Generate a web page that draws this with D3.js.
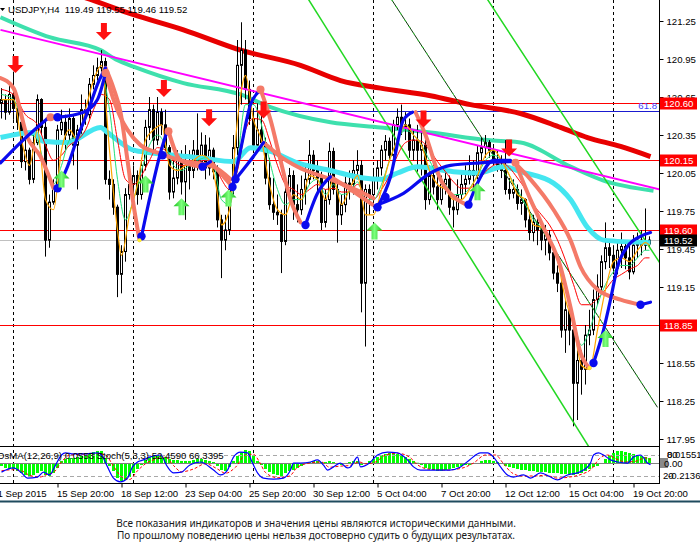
<!DOCTYPE html>
<html>
<head>
<meta charset="utf-8">
<script src="https://cdn.jsdelivr.net/npm/d3@7"></script>
<style>
  body { margin: 0; background: #fff; }
  svg { display: block; font-family: "Liberation Sans", Arial, sans-serif; }
</style>
</head>
<body>
<svg id="svg"></svg>
<script>
// ---- price data, H4 bars; bar 0 = Mon 14 Sep 00:00, visible bars -3..159 ----
const firstBar = -3;
const firstOpen = 120.60;
const closes = [120.63,120.53,120.67,120.56,120.45,120.14,120.23,120.00,120.29,120.63,120.41,119.52,119.82,119.93,120.39,120.45,120.35,120.48,120.27,120.39,
  120.55,120.51,120.75,120.82,120.88,120.93,120.00,119.96,119.78,119.25,119.43,119.88,119.96,120.03,119.88,120.11,120.41,120.55,120.31,120.53,
  120.43,120.25,119.90,120.01,120.15,119.98,120.11,120.07,120.23,120.14,120.27,120.09,120.23,120.06,119.68,119.52,119.60,119.92,120.25,120.90,
  121.02,120.71,120.48,120.27,120.39,120.29,120.01,119.80,119.74,119.72,119.51,119.90,120.03,119.80,119.76,119.92,120.00,120.19,120.07,120.01,
  119.66,119.84,120.22,119.92,119.72,119.80,119.97,119.96,120.07,120.11,119.18,119.92,119.88,120.01,120.09,120.23,120.30,120.19,120.43,120.49,
  120.41,120.43,120.23,120.31,120.23,120.27,119.84,120.03,119.94,119.84,119.96,120.00,119.78,119.76,119.88,119.96,120.00,120.07,120.03,120.21,
  120.25,120.29,120.23,120.15,120.11,120.07,119.92,119.89,119.92,119.81,119.84,119.68,119.58,119.66,119.60,119.52,119.56,119.42,119.26,119.18,
  118.81,118.97,118.81,118.39,118.57,118.50,118.77,118.81,119.05,119.15,119.35,119.46,119.40,119.30,119.44,119.47,119.38,119.27,119.48,119.52,
  119.48,119.49,119.52];
const highs = [120.72,120.67,120.75,120.85,120.63,120.48,120.31,120.25,120.35,120.67,120.64,120.47,119.88,120.00,120.43,120.55,120.51,120.56,120.51,120.43,
  120.67,120.63,120.80,120.90,120.96,121.02,120.96,120.07,120.00,119.80,119.48,119.93,120.11,120.11,120.07,120.17,120.47,120.65,120.59,120.65,
  120.56,120.55,120.27,120.15,120.23,120.23,120.27,120.23,120.31,120.52,120.37,120.35,120.33,120.25,120.11,119.72,119.72,119.98,120.35,121.10,
  121.24,121.10,120.78,120.55,120.60,120.60,120.33,120.17,120.01,119.88,119.76,119.96,120.09,120.07,119.96,120.03,120.11,120.31,120.23,120.15,
  120.06,119.92,120.29,120.25,120.00,119.88,120.03,120.07,120.15,120.23,120.15,119.96,119.96,120.09,120.15,120.27,120.35,120.33,120.47,120.56,
  120.59,120.53,120.48,120.39,120.43,120.37,120.31,120.11,120.15,120.07,120.03,120.07,120.03,119.88,120.00,120.07,120.11,120.19,120.15,120.27,
  120.33,120.35,120.31,120.27,120.23,120.19,120.31,120.01,120.00,119.96,119.92,119.85,119.76,119.72,119.70,119.68,119.64,119.60,119.48,119.32,
  119.21,119.05,119.01,118.85,118.65,118.65,118.85,118.97,119.13,119.25,119.40,119.66,119.52,119.48,119.52,119.58,119.52,119.48,119.56,119.58,
  119.60,119.77,119.55];
const lows = [120.48,120.47,120.51,120.47,120.39,120.09,120.07,119.96,119.97,120.27,120.35,119.39,119.46,119.80,119.92,120.35,120.23,120.31,120.11,119.92,
  120.35,120.43,120.48,120.71,120.78,120.85,119.96,119.84,119.72,119.07,119.10,119.35,119.84,119.88,119.80,119.84,120.07,120.31,120.23,120.27,
  120.35,120.22,119.84,119.85,119.96,119.88,119.68,119.92,120.01,120.07,120.07,120.00,120.03,120.00,119.62,119.22,119.44,119.56,119.88,120.19,
  120.59,120.63,120.43,120.23,120.23,120.23,119.96,119.76,119.68,119.64,119.26,119.48,119.82,119.68,119.66,119.72,119.80,119.96,120.00,119.88,
  119.60,119.62,119.80,119.88,119.50,119.64,119.74,119.84,119.88,120.00,118.95,118.68,119.72,119.80,119.92,120.03,120.15,120.15,120.17,120.39,
  120.35,120.31,120.17,120.15,120.06,120.03,119.76,119.80,119.88,119.76,119.80,119.88,119.72,119.62,119.72,119.84,119.88,119.96,119.92,120.00,
  120.15,120.17,120.17,120.11,120.06,120.01,119.88,119.84,119.85,119.76,119.72,119.62,119.52,119.51,119.48,119.44,119.40,119.36,119.21,119.11,
  118.75,118.63,118.69,118.05,118.10,118.30,118.38,118.69,118.77,119.01,119.11,119.29,119.30,119.25,119.25,119.30,119.29,119.21,119.25,119.38,
  119.40,119.44,119.46];

// ---- OsMA histogram, one value per bar ----
const osma = [-0.0058,-0.0097,-0.0116,-0.0116,-0.0155,-0.0194,-0.0233,-0.0252,-0.0233,-0.0194,-0.0155,-0.0233,-0.0252,-0.0194,-0.0097,0.0039,0.0078,0.0097,0.0097,0.0116,
  0.0136,0.0155,0.0194,0.0213,0.0233,0.0233,0.0097,-0.0058,-0.0155,-0.0291,-0.0349,-0.0330,-0.0271,-0.0194,-0.0116,-0.0039,0.0058,0.0116,0.0136,0.0155,
  0.0136,0.0116,0.0078,0.0058,0.0058,0.0039,0.0039,0.0039,0.0058,0.0078,0.0078,0.0058,0.0039,0.0019,-0.0058,-0.0136,-0.0155,-0.0078,0.0039,0.0136,
  0.0213,0.0252,0.0233,0.0136,0.0039,-0.0039,-0.0116,-0.0174,-0.0213,-0.0233,-0.0252,-0.0194,-0.0155,-0.0136,-0.0097,-0.0058,-0.0019,0.0019,0.0039,0.0039,
  0.0019,0.0019,0.0039,0.0019,-0.0019,-0.0039,-0.0019,0.0019,0.0039,0.0039,-0.0039,-0.0019,0.0039,0.0078,0.0116,0.0155,0.0174,0.0194,0.0194,0.0174,
  0.0155,0.0116,0.0078,0.0039,0.0005,-0.0039,-0.0097,-0.0116,-0.0136,-0.0155,-0.0155,-0.0136,-0.0116,-0.0097,-0.0078,-0.0058,-0.0039,-0.0039,-0.0019,-0.0005,
  0.0039,0.0058,0.0058,0.0039,0.0019,-0.0019,-0.0058,-0.0078,-0.0097,-0.0116,-0.0136,-0.0136,-0.0155,-0.0155,-0.0174,-0.0174,-0.0174,-0.0194,-0.0194,-0.0194,
  -0.0213,-0.0213,-0.0213,-0.0233,-0.0213,-0.0194,-0.0155,-0.0116,-0.0078,-0.0058,-0.0019,0.0078,0.0155,0.0194,0.0233,0.0233,0.0213,0.0194,0.0174,0.0155,
  0.0136,0.0116,0.0097];

// ---- Stochastic (bar, value) ----
const stochMain = [[-3,31],[0,43],[2,29],[3.5,14],[6,17],[7.5,31],[9,23],[10.5,51],[12,80],[13,86],[15,83],[17.5,83],[21,86],[22,80],[23.5,46],[25,14],
  [26.75,3],[28.5,14],[29.75,46],[31,60],[32.5,66],[34,74],[36.75,80],[38.5,46],[40,29],[42,31],[44,51],[46.75,60],[50,37],[51.75,23],[53.5,37],[55,74],
  [56.75,88],[58.5,86],[59.75,57],[61,29],[62.5,14],[65,11],[67.5,14],[69.25,37],[70,57],[71.75,57],[74.25,60],[76,66],[77.5,51],[78.5,37],[80,46],[81.75,57],
  [83.5,43],[84.25,46],[86,74],[86.75,46],[89,57],[91,80],[93.5,88],[96,86],[98.5,66],[100,46],[101.75,37],[105,37],[109,37],[111.75,46],[114,66],[116.75,86],
  [118.5,86],[120,74],[121.75,46],[123.5,23],[125,17],[127.5,23],[129.25,14],[131.75,29],[134.25,17],[136,9],[138.5,23],[141,29],[142.5,37],[144.25,57],
  [145,80],[146.25,86],[147.5,80],[149.25,66],[151,60],[153.5,57],[155,74],[156.75,80],[158.5,57],[159.25,52]];
const stochSignal = [[-3,35],[0,38],[2,35],[4,22],[6.5,17],[8.5,25],[10,30],[12,60],[14,80],[17,82],[21,84],[23,80],[25,48],[27,18],[29,10],[31,35],
  [33,55],[35.5,68],[38,74],[40,50],[42,32],[45,40],[48,55],[51,40],[53,28],[55.5,45],[58,80],[60,82],[61.5,60],[63,30],[66,15],[69,20],[71,45],[74,57],
  [77,60],[79,45],[81.5,48],[84,50],[86.5,60],[88,55],[90.5,60],[93,80],[96,85],[99,74],[101,52],[103.5,40],[108,37],[112,42],[115,57],[118,80],[120.5,80],
  [122.5,55],[124.5,30],[127,20],[130,20],[133,22],[136,14],[139,17],[142,25],[144.5,40],[146.5,70],[148.5,80],[150.5,70],[153,60],[155.5,62],[158,72],[159.25,66]];

// ---- moving averages (bar, price) ----
const maRed = [[-3.25,121.65],[11.75,121.50],[19.25,121.42],[30,121.30],[42.5,121.18],[56.75,121.02],[71.75,120.90],[81.75,120.78],[91.75,120.72],
  [104.25,120.66],[114.25,120.59],[126.75,120.52],[136.75,120.41],[143.5,120.33],[151.75,120.26],[159.25,120.18]];
const maTeal = [[-3.25,121.28],[9.25,121.12],[21.75,121.02],[26,120.94],[30,120.89],[42.5,120.76],[56.75,120.67],[64.25,120.57],[79.25,120.45],
  [91.75,120.41],[104.25,120.37],[118.5,120.31],[126.75,120.29],[139.25,120.10],[147.5,119.99],[160,119.91]];
const maCyan = [[-3.25,120.33],[5,120.37],[7.5,120.30],[13.5,120.29],[21.75,120.41],[23.5,120.37],[30,120.23],[34.25,120.21],[46.75,120.17],[55,120.14],
  [59.25,120.25],[64.25,120.22],[71,120.13],[79.25,120.07],[87.5,120.01],[91.75,120.00],[96,120.05],[101,120.10],[110,120.06],[116,120.05],[122.5,120.10],
  [126.75,120.06],[135,119.97],[139.25,119.84],[143.5,119.62],[147.5,119.52],[159.25,119.50]];
const thinOrange = [[-3,120.63],[0,120.63],[2,120.31],[4,120.11],[6,120.39],[8,119.84],[10,119.76],[12,120.23],[14,120.39],[16,120.31],[18,120.55],[20,120.78],
  [22,120.90],[24,120.23],[26,119.60],[27,119.40],[29,119.72],[31,119.96],[33,120.31],[35,120.39],[37,120.43],[39,120.11],[41,120.07],[43,120.11],[45,120.15],
  [47,120.19],[49,120.15],[51,119.88],[52,119.64],[54,119.76],[56,120.47],[58,120.82],[60,120.47],[62,120.31],[64,119.96],[66,119.76],[68,119.72],[70,119.88],
  [72,119.84],[74,120.03],[76,120.00],[78,119.84],[80,120.00],[82,119.80],[84,119.92],[86,120.03],[88,119.72],[90,119.72],[92,119.92],[94,120.15],[96,120.31],
  [98,120.43],[100,120.35],[102,120.27],[104,120.07],[106,119.96],[108,119.92],[110,119.84],[112,119.84],[114,119.92],[116,120.03],[118,120.19],[120,120.23],
  [122,120.15],[124,120.03],[126,119.88],[128,119.84],[130,119.64],[132,119.62],[134,119.54],[136,119.36],[138,119.05],[140,118.85],[142,118.53],[144,118.50],
  [146,118.81],[148,119.13],[150,119.35],[152,119.38],[154,119.35],[156,119.44],[158,119.50],[159,119.48]];
const thinGreen = [[-3,120.67],[0,120.63],[3,120.39],[6,120.31],[8,120.07],[10,119.96],[12,120.11],[14,120.31],[16,120.35],[18,120.47],[20,120.67],[22,120.82],
  [24,120.55],[26,120.00],[28,119.68],[30,119.84],[32,120.07],[34,120.27],[36,120.35],[38,120.27],[40,120.11],[42,120.07],[44,120.11],[46,120.15],[48,120.17],
  [50,120.11],[52,119.84],[54,119.80],[56,120.15],[58,120.59],[60,120.59],[62,120.43],[64,120.15],[66,119.92],[68,119.80],[70,119.84],[72,119.84],[74,119.96],
  [76,120.00],[78,119.88],[80,119.96],[82,119.88],[84,119.90],[86,119.98],[88,119.84],[90,119.84],[92,119.96],[94,120.15],[96,120.31],[98,120.39],[100,120.35],
  [102,120.27],[104,120.15],[106,120.03],[108,119.96],[110,119.88],[112,119.88],[114,119.93],[116,120.03],[118,120.15],[120,120.19],[122,120.15],[124,120.03],
  [126,119.92],[128,119.80],[130,119.68],[132,119.62],[134,119.52],[136,119.36],[138,119.13],[140,118.89],[142,118.69],[144,118.81],[146,119.01],[148,119.17],
  [150,119.27],[152,119.32],[154,119.32],[156,119.38],[158,119.44],[159,119.44]];
const thinRed = [[-3,120.71],[0,120.67],[3,120.51],[6,120.43],[8,120.27],[10,120.15],[12,120.19],[14,120.27],[16,120.31],[18,120.39],[20,120.55],[22,120.67],
  [24,120.63],[26,120.31],[28,120.00],[30,119.96],[32,120.03],[34,120.15],[36,120.25],[38,120.23],[40,120.15],[42,120.11],[44,120.11],[46,120.14],[48,120.15],
  [50,120.13],[52,120.00],[54,119.92],[56,120.07],[58,120.39],[60,120.48],[62,120.47],[64,120.31],[66,120.11],[68,119.96],[70,119.92],[72,119.88],[74,119.92],
  [76,119.96],[78,119.92],[80,119.93],[82,119.90],[84,119.90],[86,119.96],[88,119.88],[90,119.84],[92,119.92],[94,120.03],[96,120.19],[98,120.29],[100,120.31],
  [102,120.30],[104,120.23],[106,120.14],[108,120.06],[110,119.98],[112,119.93],[114,119.93],[116,119.98],[118,120.06],[120,120.11],[122,120.13],[124,120.09],
  [126,120.01],[128,119.92],[130,119.80],[132,119.72],[134,119.64],[136,119.52],[138,119.36],[140,119.17],[142,119.01],[144,119.01],[146,119.06],[148,119.13],
  [150,119.21],[152,119.25],[154,119.29],[156,119.32],[158,119.38],[159,119.38]];

// ---- swing lines: falling legs (salmon) and rising legs (blue) ----
const fastFalling = [
  [[-3.25,120.80],[0,120.72],[3.5,120.33],[6.75,120.18],[10,119.93]],
  [[23,120.88],[25,120.72],[26.75,120.53],[28.5,120.15],[30,119.80],[31.5,119.52]],
  [[38.75,120.38],[41.75,120.15],[46.75,120.10]],
  [[49.25,120.14],[52.25,120.03],[54.75,119.94]],
  [[61.75,120.71],[64.25,120.47],[66.75,120.15],[69.25,119.84],[71.75,119.66]],
  [[79.25,120.02],[84.25,119.92],[89.75,119.80]],
  [[100.5,120.53],[103,120.35],[106.75,120.00],[110.5,119.85],[113.25,119.80]],
  [[125.5,120.13],[129.25,119.84],[132.5,119.62],[136.75,119.31],[139.25,118.99],[141.75,118.63],[144,118.51]]];
const fastRising = [
  [[11,119.93],[13.5,120.10],[16,120.33],[18.75,120.55],[21,120.75],[23,120.88]],
  [[32,119.55],[34.25,119.88],[36.75,120.21],[38.5,120.39]],
  [[47.25,120.10],[49.25,120.14]],
  [[54.75,119.94],[56.75,120.23],[59.25,120.59],[61.25,120.69]],
  [[73,119.64],[76,119.89],[79.25,120.02]],
  [[91,119.78],[94.25,120.02],[97.5,120.47],[99.75,120.53]],
  [[113.75,119.80],[116,119.97],[120,120.15],[124.25,120.15]],
  [[145,118.55],[147.5,118.81],[149.25,119.05],[151,119.31],[153.5,119.47],[156.75,119.55],[159.25,119.58]]];
const slowFalling = [
  [[8.5,120.48],[11,120.49]],
  [[23,120.84],[25,120.63],[26.75,120.49],[28.5,120.39],[31.75,120.27],[36,120.21],[41.75,120.15],[50,120.10],[54.25,120.00]],
  [[62.5,120.29],[66.75,120.18],[71,120.10],[79.25,120.00],[87.5,119.89],[90,119.85]],
  [[125,120.14],[129.25,120.00],[135,119.76],[139.25,119.52],[141.75,119.31],[146,119.13],[151.75,119.05],[156.75,119.01]]];
const slowRising = [
  [[-3.25,120.13],[1.75,120.29],[8.5,120.48]],
  [[11,120.49],[17.5,120.53],[21,120.63],[23,120.84]],
  [[55.5,120.00],[59.25,120.15],[62.5,120.29]],
  [[91,119.80],[97.5,119.89],[104.25,120.05],[109.25,120.11],[116.75,120.13],[125,120.14]],
  [[156.75,119.01],[159.25,119.03]]];
const blueDots = [[11,120.49],[11,119.93],[32,119.55],[37.25,120.19],[47.25,120.10],[54.75,119.94],[55.5,120.00],[73,119.64],[91,119.78],[93,119.86],[113.75,119.80],[145,118.55],[156.75,119.01]];
const salmonDots = [[9.25,120.49],[23,120.84],[38.75,120.38],[61.75,120.71],[125.5,120.13]];
const yellowDots = [[31.5,119.52],[144,118.51]];

// ---- signal arrows: sell arrows (tip below), buy arrows (tip above) ----
const sellArrows = [[0.5,120.84],[22.6,121.10],[37.6,120.65],[48.9,120.42],[62.5,120.48],[102.5,120.41],[123.9,120.18]];
const buyArrows = [[12,120.07],[33,120.03],[42,119.85],[53.75,119.92],[90.25,119.66],[116,119.97],[148,118.81]];

// ---- drawn objects ----
const trendMagenta = [[-3.25,121.18],[161.5,119.92]];
const channelA = [[73.75,121.42],[145,117.83]];
const channelB = [[118.5,121.42],[162,119.32]];
const channelC = [[94.5,121.42],[161,118.20]];
const redLevels = [120.60, 120.15, 119.60, 118.85];
const fibLevel = 120.54;
const bidPrice = 119.52;

// ---- axes ----
const priceTicks = [121.25,120.95,120.65,120.35,120.05,119.75,119.45,119.15,118.85,118.55,118.25,117.95];
const timeTickBars = [-5,11,27,43,59,75,91,107,123,139,155];
const timeTickLabels = ["11 Sep 2015","15 Sep 20:00","18 Sep 12:00","23 Sep 04:00","25 Sep 20:00","30 Sep 12:00",
  "5 Oct 04:00","7 Oct 20:00","12 Oct 12:00","15 Oct 04:00","19 Oct 20:00"];
const weekStartBars = [0,30,60,90,120,150];

const width = 700, height = 552;
const plotRight = 659, mainBottom = 446, indTop = 447, indBottom = 483;

let svg = d3.select("#svg").attr("width", width).attr("height", height);
svg.append("rect").attr("width", width).attr("height", height).attr("fill", "#fff");

const x = d3.scaleLinear().domain([0, 1]).range([13.5, 17.5]);
const y = d3.scaleLinear().domain([117.95, 121.25]).range([439, 21]);
const yOsma = d3.scaleLinear().domain([-0.0388, 0.031]).range([483, 447]);
const yStoch = d3.scaleLinear().domain([0, 100]).range([483, 448]);

const defs = svg.append("defs");
defs.append("clipPath").attr("id", "clipMain").append("rect").attr("x", 0).attr("y", 0).attr("width", plotRight).attr("height", mainBottom);
defs.append("clipPath").attr("id", "clipInd").append("rect").attr("x", 0).attr("y", indTop).attr("width", plotRight).attr("height", indBottom - indTop);
let grad = defs.append("linearGradient").attr("id", "buyGrad").attr("x1", 0).attr("x2", 1).attr("y1", 0).attr("y2", 0);
grad.append("stop").attr("offset", "0%").attr("stop-color", "#18c018");
grad.append("stop").attr("offset", "50%").attr("stop-color", "#7dff7d");
grad.append("stop").attr("offset", "100%").attr("stop-color", "#18c018");

// week separators
svg.append("g").selectAll("line").data(weekStartBars).join("line")
  .attr("x1", d => Math.floor(x(d)) + 0.5).attr("x2", d => Math.floor(x(d)) + 0.5)
  .attr("y1", 0).attr("y2", indBottom)
  .attr("stroke", "#000").attr("stroke-dasharray", "3,3");

const chart = svg.append("g").attr("clip-path", "url(#clipMain)");

function priceLine(curve) {
  return d3.line().x(d => x(d[0])).y(d => y(d[1])).curve(curve || d3.curveLinear);
}
const smooth = priceLine(d3.curveMonotoneX);

// horizontal levels
chart.selectAll(".lvl").data(redLevels).join("line").attr("class", "lvl")
  .attr("x1", 0).attr("x2", plotRight).attr("y1", d => Math.round(y(d)) + 0.5).attr("y2", d => Math.round(y(d)) + 0.5)
  .attr("stroke", "#ff0000");
chart.append("line").attr("x1", 0).attr("x2", plotRight)
  .attr("y1", Math.round(y(fibLevel)) + 0.5).attr("y2", Math.round(y(fibLevel)) + 0.5).attr("stroke", "#1a1ad0");
chart.append("line").attr("x1", 0).attr("x2", plotRight)
  .attr("y1", Math.round(y(bidPrice)) + 0.5).attr("y2", Math.round(y(bidPrice)) + 0.5).attr("stroke", "#c0c0c0");

// slow moving averages
chart.append("path").datum(maRed).attr("d", smooth).attr("fill", "none").attr("stroke", "#e80000").attr("stroke-width", 5);
chart.append("path").datum(maTeal).attr("d", smooth).attr("fill", "none").attr("stroke", "#3ee0ad").attr("stroke-width", 4);

// candles
const candles = closes.map((c, k) => {
  const o = k === 0 ? firstOpen : closes[k - 1];
  return { bar: firstBar + k, o: o, c: c, h: Math.max(highs[k], o, c), l: Math.min(lows[k], o, c) };
});
const cg = chart.append("g");
cg.selectAll("line").data(candles).join("line")
  .attr("x1", d => x(d.bar)).attr("x2", d => x(d.bar))
  .attr("y1", d => y(d.h)).attr("y2", d => y(d.l))
  .attr("stroke", "#000");
cg.selectAll("rect").data(candles).join("rect")
  .attr("x", d => x(d.bar) - 1).attr("width", 2)
  .attr("y", d => y(Math.max(d.o, d.c))).attr("height", d => Math.abs(y(d.o) - y(d.c)))
  .attr("fill", d => d.c >= d.o ? "#fff" : "#000").attr("stroke", "#000");

// channel and trend lines
function rayLine(pts) {
  const [a, b] = pts;
  const slope = (b[1] - a[1]) / (b[0] - a[0]);
  return [a, b, [b[0] + 40, b[1] + slope * 40]];
}
chart.append("path").datum(channelA).attr("d", priceLine()).attr("fill", "none").attr("stroke", "#22d822").attr("stroke-width", 1.5);
chart.append("path").datum(rayLine(channelB)).attr("d", priceLine()).attr("fill", "none").attr("stroke", "#22d822").attr("stroke-width", 1.5);
chart.append("path").datum(channelC).attr("d", priceLine()).attr("fill", "none").attr("stroke", "#0a3a0a").attr("stroke-width", 1);
chart.append("path").datum(channelC).attr("d", priceLine()).attr("fill", "none").attr("stroke", "#30e030").attr("stroke-width", 1).attr("stroke-dasharray", "2,6");
chart.append("path").datum(trendMagenta).attr("d", priceLine()).attr("fill", "none").attr("stroke", "#ff00ff").attr("stroke-width", 2);

chart.append("path").datum(maCyan).attr("d", smooth).attr("fill", "none").attr("stroke", "#44e6f0").attr("stroke-width", 5);

// thin fast averages
chart.append("path").datum(thinRed).attr("d", smooth).attr("fill", "none").attr("stroke", "#ff0000").attr("stroke-width", 1);
chart.append("path").datum(thinGreen).attr("d", smooth).attr("fill", "none").attr("stroke", "#20e07a").attr("stroke-width", 1);
chart.append("path").datum(thinOrange).attr("d", smooth).attr("fill", "none").attr("stroke", "#ffa500").attr("stroke-width", 1.2);

// swing lines
[slowFalling, fastFalling].forEach(set => set.forEach(seg =>
  chart.append("path").datum(seg).attr("d", smooth).attr("fill", "none").attr("stroke", "#f47a68").attr("stroke-width", 4).attr("stroke-linecap", "round")));
[slowRising, fastRising].forEach(set => set.forEach(seg =>
  chart.append("path").datum(seg).attr("d", smooth).attr("fill", "none").attr("stroke", "#0a0aee").attr("stroke-width", 3.2).attr("stroke-linecap", "round")));
chart.selectAll(".sd").data(salmonDots).join("circle").attr("class", "sd")
  .attr("cx", d => x(d[0])).attr("cy", d => y(d[1])).attr("r", 4).attr("fill", "#f47a68");
chart.selectAll(".bd").data(blueDots).join("circle").attr("class", "bd")
  .attr("cx", d => x(d[0])).attr("cy", d => y(d[1])).attr("r", 4.2).attr("fill", "#0a0aee");
chart.selectAll(".yd").data(yellowDots).join("circle").attr("class", "yd")
  .attr("cx", d => x(d[0])).attr("cy", d => y(d[1])).attr("r", 2).attr("fill", "#ffee30");

// arrows
const sellShape = "M-3,-17 L3,-17 L3,-8 L8,-8 L0,0 L-8,-8 L-3,-8 Z";
const buyShape = "M0,0 L8,8 L3,8 L3,17 L-3,17 L-3,8 L-8,8 Z";
chart.selectAll(".sell").data(sellArrows).join("path").attr("class", "sell")
  .attr("transform", d => `translate(${x(d[0])},${y(d[1])})`).attr("d", sellShape).attr("fill", "#ff1010");
chart.selectAll(".buy").data(buyArrows).join("path").attr("class", "buy")
  .attr("transform", d => `translate(${x(d[0])},${y(d[1])})`).attr("d", buyShape).attr("fill", "url(#buyGrad)");

// ---- indicator window ----
const ind = svg.append("g").attr("clip-path", "url(#clipInd)");
ind.selectAll("rect").data(osma).join("rect")
  .attr("x", (d, k) => x(firstBar + k) - 1.5).attr("width", 3)
  .attr("y", d => Math.min(yOsma(d), yOsma(0))).attr("height", d => Math.abs(yOsma(d) - yOsma(0)))
  .attr("fill", "#00ff00");
ind.append("line").attr("x1", 0).attr("x2", plotRight).attr("y1", Math.round(yOsma(0)) + 0.5).attr("y2", Math.round(yOsma(0)) + 0.5).attr("stroke", "#808080");
[80, 20].forEach(v => ind.append("line").attr("x1", 0).attr("x2", plotRight)
  .attr("y1", Math.round(yStoch(v)) + 0.5).attr("y2", Math.round(yStoch(v)) + 0.5)
  .attr("stroke", "#a8a8a8").attr("stroke-dasharray", "4,3"));
const stochLine = d3.line().x(d => x(d[0])).y(d => yStoch(d[1])).curve(d3.curveMonotoneX);
ind.append("path").datum(stochSignal).attr("d", stochLine).attr("fill", "none").attr("stroke", "#ff0000").attr("stroke-dasharray", "3,2");
ind.append("path").datum(stochMain).attr("d", stochLine).attr("fill", "none").attr("stroke", "#0000ff").attr("stroke-width", 1.2);

// frame lines
svg.append("line").attr("x1", 0).attr("x2", plotRight).attr("y1", mainBottom + 0.5).attr("y2", mainBottom + 0.5).attr("stroke", "#000");
svg.append("line").attr("x1", 0).attr("x2", plotRight).attr("y1", indBottom + 0.5).attr("y2", indBottom + 0.5).attr("stroke", "#000");
svg.append("line").attr("x1", plotRight + 0.5).attr("x2", plotRight + 0.5).attr("y1", 0).attr("y2", indBottom + 1).attr("stroke", "#000");

// price axis (the 118.85 text sits fully under its level box, so only its tick is kept)
const pAxis = svg.append("g").attr("transform", `translate(${plotRight + 0.5},0)`)
  .call(d3.axisRight(y).tickValues(priceTicks).tickFormat(d3.format(".2f")).tickSize(4).tickPadding(3));
pAxis.select(".domain").remove();
pAxis.selectAll("text").attr("font-size", 9.6).attr("font-family", "Liberation Sans, Arial, sans-serif").attr("fill", "#000");
pAxis.selectAll(".tick").filter(d => redLevels.includes(d)).select("text").remove();

// level boxes
const boxes = redLevels.map(v => ({ v: v, fill: "#ff0000" })).concat([{ v: bidPrice, fill: "#000" }]);
const bx = svg.append("g").selectAll("g").data(boxes).join("g")
  .attr("transform", d => `translate(${plotRight + 1},${Math.round(y(d.v))})`);
bx.append("rect").attr("x", 0).attr("y", -5.5).attr("width", 37).attr("height", 12).attr("fill", d => d.fill);
bx.append("text").attr("x", 4).attr("y", 3.8).attr("font-size", 9.6).attr("fill", "#fff").text(d => d.v.toFixed(2));
svg.append("text").attr("x", 657).attr("y", y(fibLevel) - 2).attr("text-anchor", "end")
  .attr("font-size", 9.6).attr("fill", "#3a3aff").text("61.8");

// indicator axis labels
svg.append("text").attr("x", 667).attr("y", 458).attr("font-size", 9.6).text("0.01551");
svg.append("text").attr("x", 667).attr("y", 458).attr("font-size", 9.6).text("80");
svg.append("rect").attr("x", 660).attr("y", 458).attr("width", 8).attr("height", 10).attr("fill", "#8a8a8a");
svg.append("text").attr("x", 664).attr("y", 467).attr("font-size", 9.6).text("0.00");
svg.append("text").attr("x", 668).attr("y", 479).attr("font-size", 9.6).text("-0.2136");
svg.append("text").attr("x", 663).attr("y", 479).attr("font-size", 9.6).text("20");

// time axis
const tAxis = svg.append("g").attr("transform", `translate(0,${indBottom + 0.5})`)
  .call(d3.axisBottom(x).tickValues(timeTickBars).tickFormat((d, k) => timeTickLabels[k]).tickSize(4).tickPadding(3));
tAxis.select(".domain").remove();
tAxis.selectAll("text").attr("text-anchor", "start").attr("x", -1).attr("font-size", 9.6)
  .attr("font-family", "Liberation Sans, Arial, sans-serif").attr("fill", "#000");

// headers
svg.append("path").attr("d", "M0,8 L5,8 L2.5,11 Z").attr("fill", "#000");
svg.append("text").attr("x", 8).attr("y", 13).attr("font-size", 9.6).attr("xml:space", "preserve")
  .text("USDJPY,H4  119.49 119.55 119.46 119.52");
svg.append("text").attr("x", -3).attr("y", 459).attr("font-size", 9.6)
  .text("OsMA(12,26,9) 0.0553 Stoch(5,3,3) 52.4590 66.3395");

// disclaimer
svg.append("line").attr("x1", 0).attr("x2", width).attr("y1", 501.5).attr("y2", 501.5).attr("stroke", "#1f4b5e").attr("stroke-width", 2);
svg.append("text").attr("x", 316).attr("y", 527).attr("text-anchor", "middle").attr("font-size", 10)
  .attr("font-family", "Noto Sans, DejaVu Sans, sans-serif").attr("fill", "#1a1a1a")
  .text("Все показания индикаторов и значения цены являются историческими данными.");
svg.append("text").attr("x", 316).attr("y", 539).attr("text-anchor", "middle").attr("font-size", 10)
  .attr("font-family", "Noto Sans, DejaVu Sans, sans-serif").attr("fill", "#1a1a1a")
  .text("По прошлому поведению цены нельзя достоверно судить о будущих результатах.");
</script>
</body>
</html>
